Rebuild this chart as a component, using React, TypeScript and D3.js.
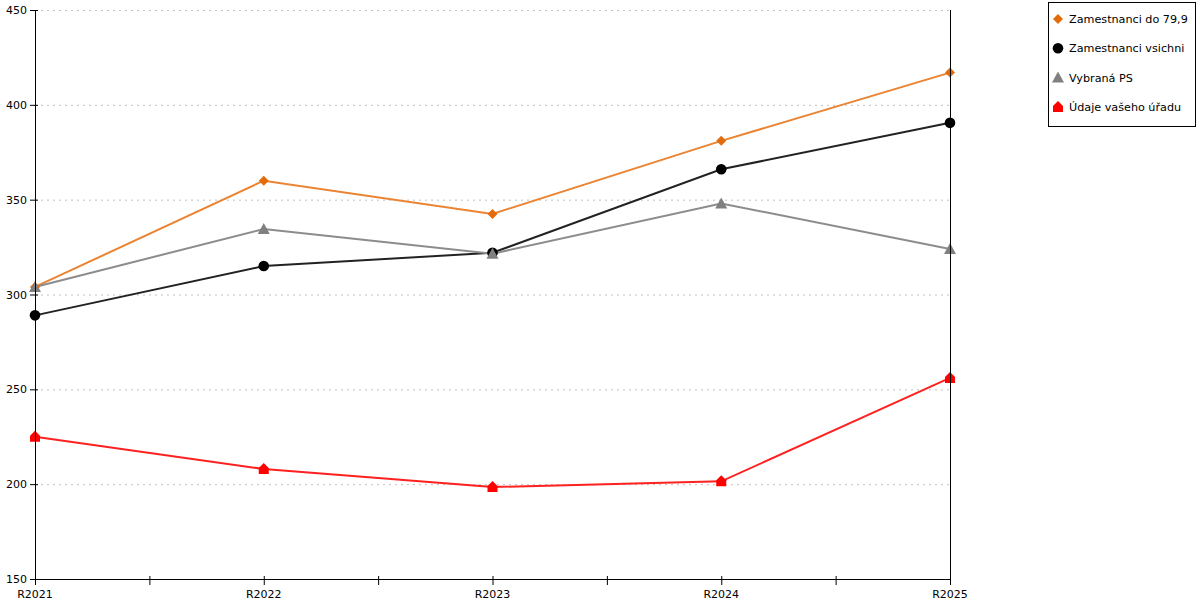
import React from "react";
import * as d3 from "d3";

const categories = ["R2021", "R2022", "R2023", "R2024", "R2025"];
const yTicks = [150, 200, 250, 300, 350, 400, 450];
const seriesNames = ["Zamestnanci do 79,9", "Zamestnanci vsichni", "Vybraná PS", "Údaje vašeho úřadu"];
const orangeValues = [304, 360, 342.5, 381, 417];
const blackValues = [289, 315, 322, 366, 390.5];
const grayValues = [304, 334.5, 321.5, 348, 324];
const redValues = [225, 208, 198.5, 201.5, 256];

const W = 1200, H = 600;
const left = 35, right = 950, top = 10, bottom = 579;
const FONT = "'DejaVu Sans', Verdana, sans-serif";

type S = { name: string; values: number[]; line: string; fill: string; shape: string };
const series: S[] = [
  { name: seriesNames[0], values: orangeValues, line: "#ea8433", fill: "#e36c0a", shape: "diamond" },
  { name: seriesNames[1], values: blackValues, line: "#222222", fill: "#000000", shape: "circle" },
  { name: seriesNames[2], values: grayValues, line: "#8c8c8c", fill: "#808080", shape: "triangle" },
  { name: seriesNames[3], values: redValues, line: "#ff2020", fill: "#ff0000", shape: "house" },
];

function Marker({ shape, x, y, fill }: { shape: string; x: number; y: number; fill: string }) {
  if (shape === "diamond") {
    return <path d={`M${x},${y - 5}L${x + 5},${y}L${x},${y + 5}L${x - 5},${y}Z`} fill={fill} />;
  }
  if (shape === "circle") return <circle cx={x} cy={y} r={5.3} fill={fill} />;
  if (shape === "triangle") {
    return <path d={`M${x},${y - 6}L${x + 6},${y + 5}L${x - 6},${y + 5}Z`} fill={fill} />;
  }
  return <path d={`M${x},${y - 6}L${x + 5},${y - 1}L${x + 5},${y + 5}L${x - 5},${y + 5}L${x - 5},${y - 1}Z`} fill={fill} />;
}

export default function App() {
  const x = d3.scalePoint<string>().domain(categories).range([left, right]);
  const y = d3.scaleLinear().domain([150, 450]).range([bottom, top]);
  const step = x.step();
  const xTickPos: number[] = [];
  categories.forEach((c, i) => {
    xTickPos.push(x(c)!);
    if (i < categories.length - 1) xTickPos.push(x(c)! + step / 2);
  });
  const lineGen = d3.line<number>().x((_, i) => x(categories[i])!).y((d) => y(d));

  return (
    <div style={{ position: "fixed", left: 0, top: 0, width: W, height: H, background: "#fff" }}>
      <svg width={W} height={H} style={{ display: "block" }} fontFamily={FONT}>
        {yTicks.filter((t) => t !== 150).map((t) => (
          <line key={t} x1={left} x2={right} y1={y(t) + 0.5} y2={y(t) + 0.5} stroke="#c0c0c0" strokeDasharray="2,4" />
        ))}
        {series.map((s) => (
          <path key={s.name} d={lineGen(s.values) || ""} fill="none" stroke={s.line} strokeWidth={2} />
        ))}
        {series.map((s) =>
          s.values.map((v, i) => (
            <Marker key={s.name + i} shape={s.shape} x={x(categories[i])!} y={y(v)} fill={s.fill} />
          ))
        )}
        {/* axes */}
        <line x1={left + 0.5} x2={left + 0.5} y1={top} y2={bottom} stroke="#000" />
        <line x1={right + 0.5} x2={right + 0.5} y1={top} y2={bottom} stroke="#000" />
        <line x1={left} x2={right} y1={bottom + 0.5} y2={bottom + 0.5} stroke="#000" />
        {yTicks.map((t) => (
          <g key={t}>
            <line x1={left - 5} x2={left + 3} y1={y(t) + 0.5} y2={y(t) + 0.5} stroke="#000" />
            <text x={left - 8} y={y(t) + 4} textAnchor="end" fontSize={11} fill="#000">{t}</text>
          </g>
        ))}
        {xTickPos.map((p, i) => (
          <line key={i} x1={p + 0.5} x2={p + 0.5} y1={bottom - 3} y2={bottom + 6} stroke="#000" />
        ))}
        {categories.map((c) => (
          <text key={c} x={x(c)!} y={bottom + 19} textAnchor="middle" fontSize={11} fill="#000">{c}</text>
        ))}
        {/* legend */}
        <rect x={1048.5} y={2.5} width={147} height={124} fill="#fff" stroke="#000" />
        {series.map((s, i) => (
          <g key={s.name}>
            <Marker shape={s.shape} x={1058} y={19 + i * 29.3} fill={s.fill} />
            <text x={1069} y={19 + i * 29.3 + 4} fontSize={11.2} fill="#000">{s.name}</text>
          </g>
        ))}
      </svg>
    </div>
  );
}
